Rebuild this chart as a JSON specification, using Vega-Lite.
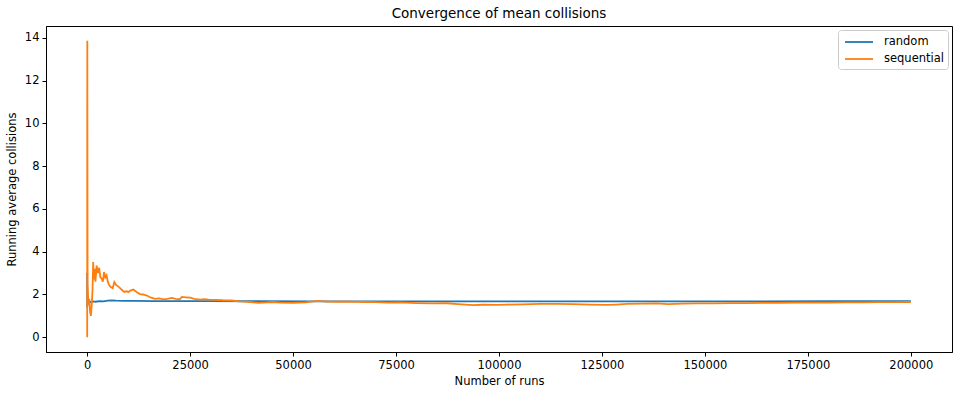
{
  "$schema": "https://vega.github.io/schema/vega-lite/v6.json",
  "width": 906,
  "height": 326,
  "autosize": {"type": "none"},
  "padding": {"left": 46, "top": 26, "right": 8, "bottom": 43},
  "background": "white",
  "config": {
    "font": "DejaVu Sans",
    "view": {"stroke": "black", "strokeWidth": 1},
    "axis": {
      "grid": false,
      "domainColor": "black",
      "tickColor": "black",
      "tickSize": 4,
      "labelColor": "black",
      "titleColor": "black",
      "labelFontSize": 11.5,
      "titleFontSize": 11.5,
      "titleFontWeight": "normal",
      "labelPadding": 3
    },
    "legend": {
      "orient": "top-right",
      "offset": 4,
      "padding": 4,
      "strokeColor": "#cccccc",
      "fillColor": "rgba(255,255,255,0.8)",
      "cornerRadius": 3,
      "symbolType": "M-2,0H2",
      "symbolSize": 196,
      "symbolOffset": 9,
      "symbolStrokeWidth": 1.8,
      "labelFontSize": 11.5,
      "labelColor": "black",
      "labelOffset": 17,
      "rowPadding": 3
    }
  },
  "title": {"text": "Convergence of mean collisions", "fontSize": 13.5, "fontWeight": "normal", "color": "black", "offset": 6},
  "data": {"values": [
    {"run": 1, "series": "random", "value": 3.0},
    {"run": 3, "series": "random", "value": 1.4},
    {"run": 8, "series": "random", "value": 2.3},
    {"run": 20, "series": "random", "value": 1.5},
    {"run": 50, "series": "random", "value": 1.9},
    {"run": 100, "series": "random", "value": 1.55},
    {"run": 200, "series": "random", "value": 1.62},
    {"run": 400, "series": "random", "value": 1.58},
    {"run": 700, "series": "random", "value": 1.66},
    {"run": 1000, "series": "random", "value": 1.65},
    {"run": 1500, "series": "random", "value": 1.68},
    {"run": 2000, "series": "random", "value": 1.66},
    {"run": 3000, "series": "random", "value": 1.69},
    {"run": 4000, "series": "random", "value": 1.68},
    {"run": 5000, "series": "random", "value": 1.71},
    {"run": 6000, "series": "random", "value": 1.72},
    {"run": 7000, "series": "random", "value": 1.71},
    {"run": 9000, "series": "random", "value": 1.7},
    {"run": 12000, "series": "random", "value": 1.7},
    {"run": 16000, "series": "random", "value": 1.69},
    {"run": 20000, "series": "random", "value": 1.69},
    {"run": 30000, "series": "random", "value": 1.69},
    {"run": 40000, "series": "random", "value": 1.685},
    {"run": 55000, "series": "random", "value": 1.68},
    {"run": 70000, "series": "random", "value": 1.68},
    {"run": 85000, "series": "random", "value": 1.675},
    {"run": 100000, "series": "random", "value": 1.68},
    {"run": 120000, "series": "random", "value": 1.68},
    {"run": 140000, "series": "random", "value": 1.68},
    {"run": 160000, "series": "random", "value": 1.68},
    {"run": 180000, "series": "random", "value": 1.685},
    {"run": 200000, "series": "random", "value": 1.685},
    {"run": 1, "series": "sequential", "value": 0},
    {"run": 30, "series": "sequential", "value": 13.87},
    {"run": 100, "series": "sequential", "value": 2.5},
    {"run": 300, "series": "sequential", "value": 1.5},
    {"run": 500, "series": "sequential", "value": 1.8},
    {"run": 700, "series": "sequential", "value": 1.2},
    {"run": 900, "series": "sequential", "value": 1.0},
    {"run": 1100, "series": "sequential", "value": 1.5},
    {"run": 1300, "series": "sequential", "value": 2.2},
    {"run": 1450, "series": "sequential", "value": 3.52},
    {"run": 1600, "series": "sequential", "value": 2.7},
    {"run": 1800, "series": "sequential", "value": 3.2},
    {"run": 2000, "series": "sequential", "value": 2.6},
    {"run": 2300, "series": "sequential", "value": 3.35},
    {"run": 2600, "series": "sequential", "value": 3.0},
    {"run": 2900, "series": "sequential", "value": 3.25},
    {"run": 3200, "series": "sequential", "value": 2.8},
    {"run": 3500, "series": "sequential", "value": 2.75},
    {"run": 3800, "series": "sequential", "value": 2.6},
    {"run": 4100, "series": "sequential", "value": 3.05},
    {"run": 4400, "series": "sequential", "value": 2.8},
    {"run": 4700, "series": "sequential", "value": 2.9},
    {"run": 5000, "series": "sequential", "value": 2.6},
    {"run": 5300, "series": "sequential", "value": 2.45},
    {"run": 5700, "series": "sequential", "value": 2.35},
    {"run": 6200, "series": "sequential", "value": 2.3},
    {"run": 6600, "series": "sequential", "value": 2.58},
    {"run": 7000, "series": "sequential", "value": 2.45},
    {"run": 7500, "series": "sequential", "value": 2.38},
    {"run": 8000, "series": "sequential", "value": 2.3},
    {"run": 8500, "series": "sequential", "value": 2.2},
    {"run": 9000, "series": "sequential", "value": 2.12},
    {"run": 9500, "series": "sequential", "value": 2.15},
    {"run": 10000, "series": "sequential", "value": 2.12},
    {"run": 10500, "series": "sequential", "value": 2.18},
    {"run": 11200, "series": "sequential", "value": 2.23},
    {"run": 12000, "series": "sequential", "value": 2.12},
    {"run": 12800, "series": "sequential", "value": 2.02},
    {"run": 13500, "series": "sequential", "value": 2.0},
    {"run": 14500, "series": "sequential", "value": 1.95},
    {"run": 15500, "series": "sequential", "value": 1.85},
    {"run": 16500, "series": "sequential", "value": 1.8},
    {"run": 17500, "series": "sequential", "value": 1.82},
    {"run": 18500, "series": "sequential", "value": 1.77},
    {"run": 19500, "series": "sequential", "value": 1.8},
    {"run": 20500, "series": "sequential", "value": 1.84},
    {"run": 21500, "series": "sequential", "value": 1.8},
    {"run": 22500, "series": "sequential", "value": 1.78},
    {"run": 23000, "series": "sequential", "value": 1.89},
    {"run": 24000, "series": "sequential", "value": 1.87},
    {"run": 25000, "series": "sequential", "value": 1.85},
    {"run": 26000, "series": "sequential", "value": 1.8},
    {"run": 27400, "series": "sequential", "value": 1.76},
    {"run": 28500, "series": "sequential", "value": 1.78},
    {"run": 29500, "series": "sequential", "value": 1.76},
    {"run": 31000, "series": "sequential", "value": 1.75},
    {"run": 33000, "series": "sequential", "value": 1.73},
    {"run": 35000, "series": "sequential", "value": 1.72},
    {"run": 37000, "series": "sequential", "value": 1.68},
    {"run": 39000, "series": "sequential", "value": 1.66},
    {"run": 41500, "series": "sequential", "value": 1.61},
    {"run": 43600, "series": "sequential", "value": 1.63},
    {"run": 45000, "series": "sequential", "value": 1.65},
    {"run": 47000, "series": "sequential", "value": 1.62},
    {"run": 50000, "series": "sequential", "value": 1.61},
    {"run": 53000, "series": "sequential", "value": 1.63},
    {"run": 56000, "series": "sequential", "value": 1.7},
    {"run": 58000, "series": "sequential", "value": 1.67},
    {"run": 61000, "series": "sequential", "value": 1.66},
    {"run": 64000, "series": "sequential", "value": 1.67},
    {"run": 67000, "series": "sequential", "value": 1.65},
    {"run": 70000, "series": "sequential", "value": 1.64},
    {"run": 73000, "series": "sequential", "value": 1.62},
    {"run": 76000, "series": "sequential", "value": 1.63},
    {"run": 80000, "series": "sequential", "value": 1.6},
    {"run": 84000, "series": "sequential", "value": 1.58},
    {"run": 87400, "series": "sequential", "value": 1.59},
    {"run": 90000, "series": "sequential", "value": 1.55},
    {"run": 93700, "series": "sequential", "value": 1.5},
    {"run": 96000, "series": "sequential", "value": 1.52},
    {"run": 99500, "series": "sequential", "value": 1.51},
    {"run": 102000, "series": "sequential", "value": 1.53},
    {"run": 105800, "series": "sequential", "value": 1.54},
    {"run": 110000, "series": "sequential", "value": 1.56},
    {"run": 114000, "series": "sequential", "value": 1.56},
    {"run": 118000, "series": "sequential", "value": 1.55},
    {"run": 122000, "series": "sequential", "value": 1.53},
    {"run": 126200, "series": "sequential", "value": 1.51},
    {"run": 128500, "series": "sequential", "value": 1.53},
    {"run": 131000, "series": "sequential", "value": 1.56},
    {"run": 135000, "series": "sequential", "value": 1.57},
    {"run": 138300, "series": "sequential", "value": 1.58},
    {"run": 141000, "series": "sequential", "value": 1.55},
    {"run": 144600, "series": "sequential", "value": 1.57},
    {"run": 148000, "series": "sequential", "value": 1.58},
    {"run": 152000, "series": "sequential", "value": 1.58},
    {"run": 156000, "series": "sequential", "value": 1.6},
    {"run": 160000, "series": "sequential", "value": 1.6},
    {"run": 164000, "series": "sequential", "value": 1.61},
    {"run": 168000, "series": "sequential", "value": 1.61},
    {"run": 172000, "series": "sequential", "value": 1.62},
    {"run": 176000, "series": "sequential", "value": 1.62},
    {"run": 180000, "series": "sequential", "value": 1.62},
    {"run": 184000, "series": "sequential", "value": 1.63},
    {"run": 188000, "series": "sequential", "value": 1.63},
    {"run": 192000, "series": "sequential", "value": 1.64},
    {"run": 196000, "series": "sequential", "value": 1.64},
    {"run": 200000, "series": "sequential", "value": 1.65}
  ]},
  "mark": {"type": "line", "strokeWidth": 1.8, "clip": true},
  "encoding": {
    "x": {
      "field": "run", "type": "quantitative",
      "scale": {"domain": [-10000, 210000], "nice": false, "zero": false},
      "axis": {"title": "Number of runs", "values": [0, 25000, 50000, 75000, 100000, 125000, 150000, 175000, 200000], "format": "d", "titlePadding": 5}
    },
    "y": {
      "field": "value", "type": "quantitative",
      "scale": {"domain": [-0.69, 14.56], "nice": false, "zero": false},
      "axis": {"title": "Running average collisions", "values": [0, 2, 4, 6, 8, 10, 12, 14], "format": "d", "titlePadding": 7}
    },
    "color": {
      "field": "series", "type": "nominal",
      "scale": {"domain": ["random", "sequential"], "range": ["#1f77b4", "#ff7f0e"]},
      "legend": {"title": null}
    }
  }
}
